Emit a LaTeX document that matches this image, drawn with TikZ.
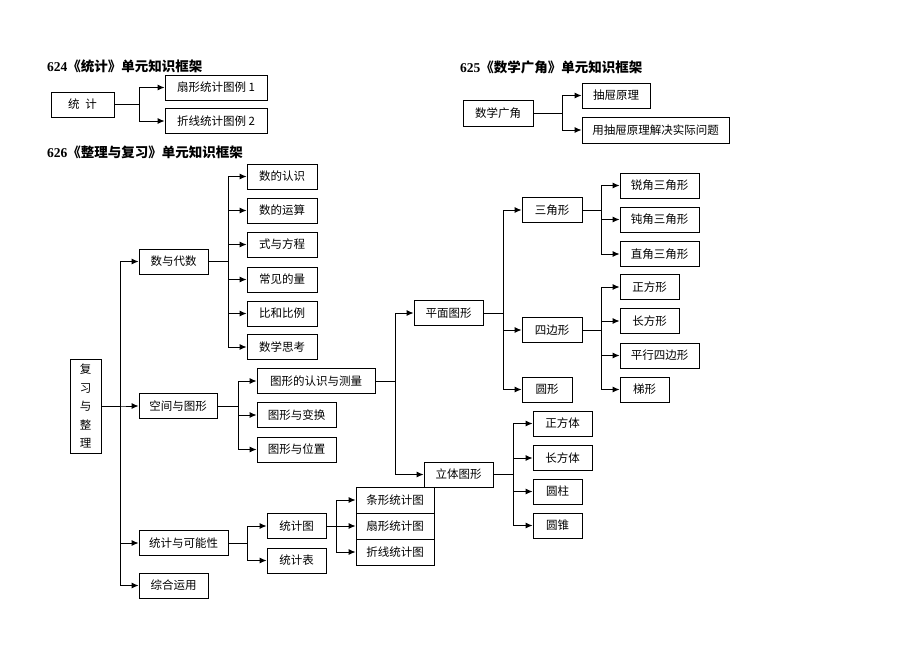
\documentclass[tikz,border=0pt]{standalone}
\usepackage{fontspec}
\setmainfont{Liberation Serif}
\newfontfamily\cjk{Noto Sans CJK SC}
\usepackage{tikz}
\usetikzlibrary{arrows.meta,backgrounds,calc}

\tikzset{
  box/.style={draw, line width=0.9pt, minimum height=25, inner sep=2pt,
    font=\cjk\fontsize{11.5}{13}\selectfont},
  arr/.style={line width=0.9pt, -{Latex[length=7pt,width=6pt]}},
  ttl/.style={anchor=west, inner sep=0pt, font=\bfseries\fontsize{13.5}{15}\selectfont}
}

\begin{document}
\begin{tikzpicture}[x=1pt,y=-1pt]
\useasboundingbox (0,0) rectangle (920,651);

% titles
\node[ttl] (t624) at (47,66) {624{\cjk\bfseries 《统计》单元知识框架}};
\node[ttl] (t625) at (460,67) {625{\cjk\bfseries 《数学广角》单元知识框架}};
\node[ttl] (t626) at (47,152) {626{\cjk\bfseries 《整理与复习》单元知识框架}};

% 624
\node[box, minimum width=63] (tj) at (82.5,104.5) {统\enspace 计};
\node[box, minimum width=102] (sxtl) at (216,87.5) {扇形统计图例 1};
\node[box, minimum width=102] (zxtl) at (216,121) {折线统计图例 2};
\foreach \b in {sxtl,zxtl}
  \draw[arr] (tj.east) -- ++(25,0) |- (\b.west);

% 625
\node[box, minimum width=70, minimum height=26] (sxgj) at (498,113) {数学广角};
\node[box, minimum width=68] (ctyl) at (616,95.5) {抽屉原理};
\node[box, minimum width=147, minimum height=26] (yctyl) at (655.5,130) {用抽屉原理解决实际问题};
\foreach \b in {ctyl,yctyl}
  \draw[arr] (sxgj.east) -- ++(29,0) |- (\b.west);

% 626
\node[box, minimum width=31, minimum height=94, align=center,
  font=\cjk\fontsize{11.5}{18.5}\selectfont] (fxzl) at (85.5,406) {复\\习\\与\\整\\理};

\node[box, minimum width=69] (sydsh) at (173.5,261.5) {数与代数};
\node[box, minimum width=78] (kjtx) at (178,406) {空间与图形};
\node[box, minimum width=89] (tjknx) at (183.5,543) {统计与可能性};
\node[box, minimum width=69] (zhyy) at (173.5,585.5) {综合运用};
\foreach \b in {sydsh,kjtx,tjknx,zhyy}
  \draw[arr] (fxzl.east) -- ++(19,0) |- (\b.west);

% 数与代数
\node[box, minimum width=70] (srs) at (282,176.5) {数的认识};
\node[box, minimum width=70] (sys) at (282,210.5) {数的运算};
\node[box, minimum width=70] (sfc) at (282,244.5) {式与方程};
\node[box, minimum width=70] (cjl) at (282,279.5) {常见的量};
\node[box, minimum width=70] (bhb) at (282,313.5) {比和比例};
\node[box, minimum width=70] (sxsk) at (282,347) {数学思考};
\foreach \b in {srs,sys,sfc,cjl,bhb,sxsk}
  \draw[arr] (sydsh.east) -- ++(20,0) |- (\b.west);

% 空间与图形
\node[box, minimum width=118] (txrs) at (316,381) {图形的认识与测量};
\node[box, minimum width=79] (txbh) at (296.5,415) {图形与变换};
\node[box, minimum width=79] (txwz) at (296.5,449.5) {图形与位置};
\foreach \b in {txrs,txbh,txwz}
  \draw[arr] (kjtx.east) -- ++(21,0) |- (\b.west);

\node[box, minimum width=69] (pmtx) at (448.5,313) {平面图形};
\node[box, minimum width=69] (ltx) at (458.5,474.5) {立体图形};
\foreach \b in {pmtx,ltx}
  \draw[arr] (txrs.east) -- ++(20,0) |- (\b.west);

% 平面图形
\node[box, minimum width=60] (sjx) at (552,210) {三角形};
\node[box, minimum width=60] (sbx) at (552,330) {四边形};
\node[box, minimum width=50] (yx) at (547,389.5) {圆形};
\foreach \b in {sjx,sbx,yx}
  \draw[arr] (pmtx.east) -- ++(20,0) |- (\b.west);

\node[box, minimum width=79] (rjsjx) at (659.5,185.5) {锐角三角形};
\node[box, minimum width=79] (djsjx) at (659.5,219.5) {钝角三角形};
\node[box, minimum width=79] (zjsjx) at (659.5,254) {直角三角形};
\foreach \b in {rjsjx,djsjx,zjsjx}
  \draw[arr] (sjx.east) -- ++(19,0) |- (\b.west);

\node[box, minimum width=59] (zfx) at (649.5,287) {正方形};
\node[box, minimum width=59] (cfx) at (649.5,321) {长方形};
\node[box, minimum width=79] (pxsbx) at (659.5,355.5) {平行四边形};
\node[box, minimum width=49] (tx) at (644.5,389.5) {梯形};
\foreach \b in {zfx,cfx,pxsbx,tx}
  \draw[arr] (sbx.east) -- ++(19,0) |- (\b.west);

% 立体图形
\node[box, minimum width=59] (zft) at (562.5,423.5) {正方体};
\node[box, minimum width=59] (cft) at (562.5,458) {长方体};
\node[box, minimum width=49] (yzhu) at (557.5,491.5) {圆柱};
\node[box, minimum width=49] (yzhui) at (557.5,525.5) {圆锥};
\foreach \b in {zft,cft,yzhu,yzhui}
  \draw[arr] (ltx.east) -- ++(20,0) |- (\b.west);

% 统计与可能性
\node[box, minimum width=59] (tjt) at (296.5,526) {统计图};
\node[box, minimum width=59] (tjb) at (296.5,560.5) {统计表};
\foreach \b in {tjt,tjb}
  \draw[arr] (tjknx.east) -- ++(19,0) |- (\b.west);

\node[box, minimum width=78, minimum height=26] (txtjt) at (395,500) {条形统计图};
\node[box, minimum width=78, minimum height=26] (sxtjt) at (395,526) {扇形统计图};
\node[box, minimum width=78, minimum height=26] (zxtjt) at (395,552) {折线统计图};
\foreach \b in {txtjt,sxtjt,zxtjt}
  \draw[arr] (tjt.east) -- ++(10,0) |- (\b.west);
\end{tikzpicture}
\end{document}
